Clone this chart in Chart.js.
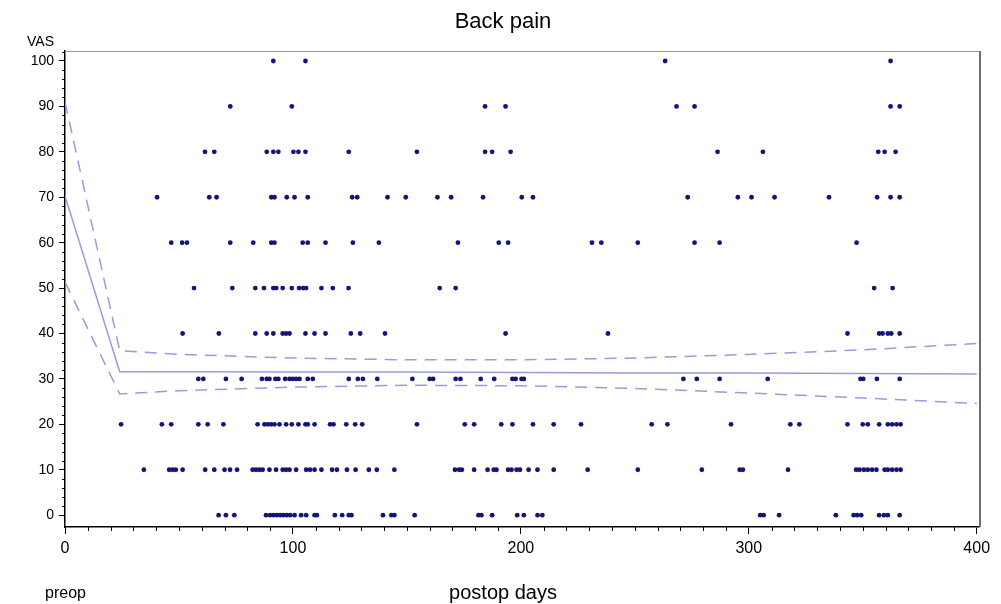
<!DOCTYPE html>
<html>
<head>
<meta charset="utf-8">
<script src="https://cdn.jsdelivr.net/npm/chart.js@4.4.0/dist/chart.umd.min.js"></script>
<style>
	html, body { margin: 0; padding: 0; background: #fff; }
	#wrap { width: 1001px; height: 604px; position: relative; }
</style>
</head>
<body>
<div id="wrap"><canvas id="backPain"></canvas></div>
<script>
// VAS levels and the postop days for each level
const vasLevels = [ 0, 10, 20, 30, 40, 50, 60, 70, 80, 90, 100 ];

const days0 = [ 67.4, 70.6, 74.3, 88.2, 90, 91.4, 92.9, 94.4, 95.8, 97.3, 98.8, 100.7, 103.6, 105.8, 109.5, 110.5, 118.4, 121.6, 124.5, 125.7,
	139.5, 143.2, 144.5, 153.4, 181.4, 182.7, 187.4, 198.4, 201.3, 207.3, 209.4,
	305, 306.5, 313.3, 338.2, 346, 347.5, 349.3, 357.2, 359.3, 361, 366.2 ];
const days10 = [ 34.6, 45.7, 47.2, 48.6, 51.6, 61.5, 65.5, 70, 72.4, 75.5, 82.3, 83.8, 85.3, 86.7, 89.7, 92.6, 95.5, 97, 98.5, 101.4,
	105.8, 107.5, 109.5, 112.5, 117.2, 119.3, 123.7, 127.5, 133.3, 136.8, 144.5, 171.1, 172.9, 174.1, 179.5, 185.4, 188.1, 189.3,
	194.4, 195.9, 198.1, 199.6, 203.4, 207.3, 214.4, 229.3, 251.3, 279.4, 296, 297.4, 317.2, 347.1, 348.6, 350.5, 352.2, 354.1,
	356, 359.6, 361, 362.9, 364.8, 366.6 ];
const days20 = [ 24.6, 42.5, 46.6, 58.5, 62.6, 69.5, 84.5, 87.5, 88.9, 90.4, 91.9, 94.1, 97, 99.5, 102.4, 105.5, 106.5, 109.5, 116.3,
	117.8, 123.4, 127.3, 130.4, 154.4, 175.4, 179.5, 191.4, 196.3, 205.3, 214.4, 226.4, 257.4, 264.3, 292.2, 318.2, 322.2, 343.3,
	350, 352.2, 357.2, 361, 362.9, 364.8, 366.6 ];
const days30 = [ 58.5, 60.7, 70.6, 77.5, 86.4, 88.5, 89.7, 92.3, 93.6, 96.6, 98.5, 99.9, 101.4, 102.9, 106.5, 108.7, 124.5, 128.5,
	130.7, 137, 152.4, 160, 161.5, 171.4, 173.5, 182.4, 188.3, 196.3, 197.7, 200.3, 201.3, 271.3, 277.2, 287.2, 308.3, 349, 350.2,
	356.2, 366.2 ];
const days40 = [ 51.6, 67.5, 83.5, 88.5, 91.4, 95.5, 97, 98.5, 105.5, 109.5, 114.3, 125.4, 129.5, 140.4, 193.3, 238.2, 343.3, 357.2,
	358.7, 361, 362.5, 366.2 ];
const days50 = [ 56.6, 73.4, 83.5, 87.3, 91.4, 92.7, 95.5, 99.5, 102.7, 104.5, 105.8, 112.5, 117.5, 124.4, 164.4, 171.4, 355, 363.1 ];
const days60 = [ 46.6, 51.4, 53.5, 72.5, 82.6, 90.5, 91.9, 104.3, 106.5, 114.3, 126.3, 137.7, 172.4, 190.3, 194.4, 231.2, 235.3,
	251.3, 276.2, 287.2, 347.3 ];
const days70 = [ 40.4, 63.3, 66.5, 90.5, 91.9, 97.3, 100.7, 106.5, 126, 128.2, 141.5, 149.5, 163.4, 169.4, 183.4, 200.4, 205.3,
	273.2, 295.2, 301.2, 311.3, 335.2, 356.3, 362.2, 366.2 ];
const days80 = [ 61.4, 65.5, 88.5, 91.4, 93.6, 100.2, 102.4, 105.5, 124.5, 154.4, 184.3, 187.4, 195.5, 286.3, 306.2, 356.8, 359.6, 364.4 ];
const days90 = [ 72.5, 99.5, 184.3, 193.3, 268.3, 276.2, 362.2, 366.2 ];
const days100 = [ 91.4, 105.5, 263.3, 362.2 ];

const daysByLevel = [ days0, days10, days20, days30, days40, days50, days60, days70, days80, days90, days100 ];

// Fitted curve with its confidence band
const fitDays  = [ 0, 24, 50, 100, 150, 200, 250, 300, 350, 400 ];
const fitMean  = [ 70.3, 31.6, 31.6, 31.5, 31.5, 31.4, 31.3, 31.3, 31.2, 31.1 ];
const fitUpper = [ 91, 36.2, 35.4, 34.6, 34.2, 34.2, 34.6, 35.4, 36.4, 37.8 ];
const fitLower = [ 51.3, 26.7, 27.4, 28.2, 28.6, 28.5, 27.9, 26.9, 25.8, 24.6 ];

const xTicks = [ 0, 100, 200, 300, 400 ];
const yTicks = [ 0, 10, 20, 30, 40, 50, 60, 70, 80, 90, 100 ];

const font = 'Liberation Sans, Arial, sans-serif';
const dotColor = '#14147a';
const lineColor = '#9a9ade';

// Build point lists from the arrays
let scatterPoints = [];
vasLevels.forEach( function ( level, i ) {
	daysByLevel[ i ].forEach( function ( d ) {
		scatterPoints.push( { x: d, y: level } );
	} );
} );

function toPoints( ys ) {
	return fitDays.map( function ( d, i ) {
		return { x: d, y: ys[ i ] };
	} );
}

// Minor ticks, frame and free texts
const decorPlugin = {
	id: 'decor',
	afterDraw: function ( chart ) {
		const ctx = chart.ctx,
			area = chart.chartArea,
			xs = chart.scales.x,
			ys = chart.scales.y;

		ctx.save();
		// frame (top / right)
		ctx.strokeStyle = '#9a9a9a';
		ctx.lineWidth = 1;
		ctx.beginPath();
		ctx.moveTo( area.left, area.top + 0.5 );
		ctx.lineTo( area.right + 0.5, area.top + 0.5 );
		ctx.stroke();
		ctx.strokeStyle = '#6e6e6e';
		ctx.lineWidth = 2;
		ctx.beginPath();
		ctx.moveTo( area.right + 1, area.top );
		ctx.lineTo( area.right + 1, area.bottom );
		ctx.stroke();

		// minor ticks
		ctx.strokeStyle = '#000';
		ctx.lineWidth = 1;
		ctx.beginPath();
		for ( let v = 0; v <= 102; v += 2 ) {
			if ( v % 10 === 0 ) continue;
			const py = Math.round( ys.getPixelForValue( v ) ) + 0.5;
			ctx.moveTo( area.left - 3, py );
			ctx.lineTo( area.left, py );
		}
		for ( let d = 0; d <= 400; d += 10 ) {
			if ( d % 100 === 0 ) continue;
			const px = Math.round( xs.getPixelForValue( d ) ) + 0.5;
			ctx.moveTo( px, area.bottom );
			ctx.lineTo( px, area.bottom + 4 );
		}
		ctx.stroke();

		// texts
		ctx.fillStyle = '#000';
		ctx.textBaseline = 'middle';
		ctx.textAlign = 'center';
		ctx.font = '22px ' + font;
		ctx.fillText( 'Back pain', 503, 22 );
		ctx.font = '20px ' + font;
		ctx.fillText( 'postop days', 503, 593 );
		ctx.textAlign = 'left';
		ctx.font = '16px ' + font;
		ctx.fillText( 'preop', 45, 594 );
		ctx.font = '14px ' + font;
		ctx.fillText( 'VAS', 27, 42 );
		ctx.restore();
	}
};

const dashed = [ 12, 8 ];

new Chart( document.getElementById( 'backPain' ).getContext( '2d' ), {
	type: 'scatter',
	data: {
		datasets: [
			{
				label: 'VAS',
				data: scatterPoints,
				pointRadius: 2.4,
				pointBackgroundColor: dotColor,
				pointBorderWidth: 0,
				order: 0
			},
			{
				label: 'Mean',
				type: 'line',
				data: toPoints( fitMean ),
				borderColor: lineColor,
				borderWidth: 1.5,
				pointRadius: 0,
				order: 1
			},
			{
				label: 'Upper',
				type: 'line',
				data: toPoints( fitUpper ),
				borderColor: lineColor,
				borderWidth: 1.5,
				borderDash: dashed,
				pointRadius: 0,
				order: 1
			},
			{
				label: 'Lower',
				type: 'line',
				data: toPoints( fitLower ),
				borderColor: lineColor,
				borderWidth: 1.5,
				borderDash: dashed,
				pointRadius: 0,
				order: 1
			}
		]
	},
	options: {
		responsive: true,
		maintainAspectRatio: false,
		animation: false,
		layout: { padding: { top: 51, right: 22, left: 0, bottom: 0 } },
		plugins: {
			legend: { display: false },
			tooltip: { enabled: false }
		},
		scales: {
			x: {
				type: 'linear',
				min: 0,
				max: 401,
				afterBuildTicks: function ( axis ) {
					axis.ticks = xTicks.map( function ( v ) { return { value: v }; } );
				},
				afterFit: function ( axis ) { axis.height = 77; },
				ticks: { color: '#000', font: { family: font, size: 16 }, padding: 5, maxRotation: 0 },
				grid: { drawOnChartArea: false, tickLength: 7, tickColor: '#000' },
				border: { color: '#000', width: 1.5 }
			},
			y: {
				type: 'linear',
				min: -2.6,
				max: 102.2,
				afterBuildTicks: function ( axis ) {
					axis.ticks = yTicks.map( function ( v ) { return { value: v }; } );
				},
				afterFit: function ( axis ) { axis.width = 65; },
				ticks: { color: '#000', font: { family: font, size: 14 }, padding: 5 },
				grid: { drawOnChartArea: false, tickLength: 6, tickColor: '#000' },
				border: { color: '#000', width: 1.5 }
			}
		}
	},
	plugins: [ decorPlugin ]
} );
</script>
</body>
</html>
